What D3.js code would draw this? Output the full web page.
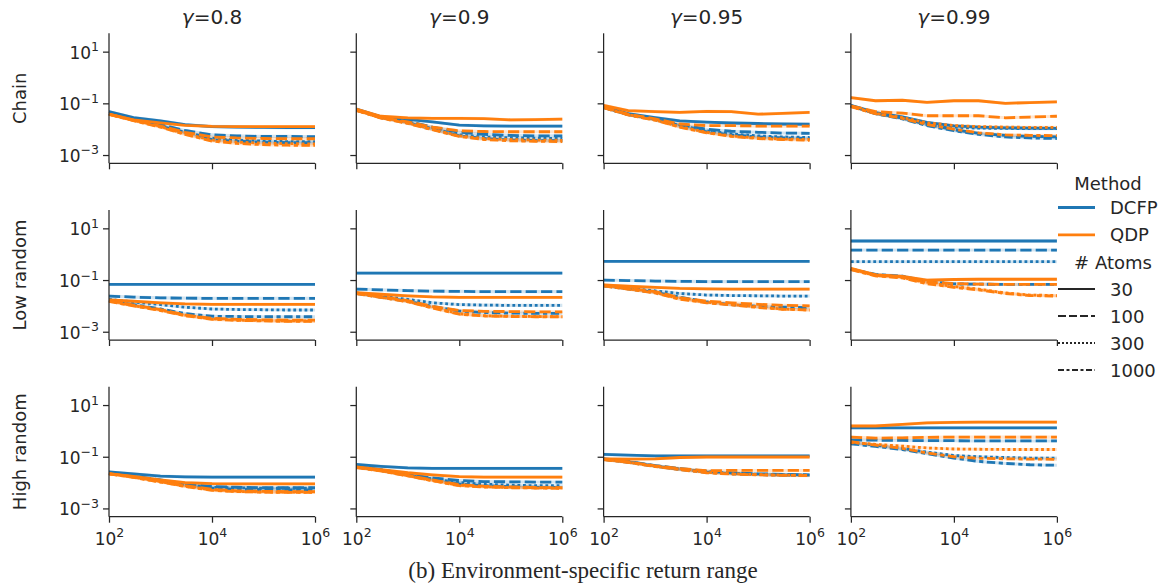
<!DOCTYPE html>
<meta charset="utf-8">
<script src="https://d3js.org/d3.v7.min.js"></script>
<style>
  body { margin: 0; background: #fff; }
  text { font-family: "DejaVu Sans", sans-serif; fill: #262626; }
</style>
<div id="chart"></div>
<script>
  // x values (return range) shared by every line
  var xVals = [1e2, 3e2, 1e3, 3e3, 1e4, 3e4, 1e5, 3e5, 1e6]
  var rowNames = ["Chain", "Low random", "High random"]
  var gammas = ["0.8", "0.9", "0.95", "0.99"]
  var methods = ["DCFP", "QDP"]
  var atoms = [30, 100, 300, 1000]
  var yTicks = [1e1, 1e-1, 1e-3]
  var xTicks = [1e2, 1e4, 1e6]

  // values, stored as log10(error); one row per atom count (30, 100, 300, 1000)
  var chain08Dcfp = [
    [-1.32, -1.55, -1.68, -1.82, -1.90, -1.92, -1.93, -1.94, -1.94],
    [-1.38, -1.60, -1.82, -2.05, -2.22, -2.26, -2.28, -2.28, -2.29],
    [-1.39, -1.62, -1.86, -2.12, -2.35, -2.42, -2.46, -2.48, -2.48],
    [-1.39, -1.63, -1.88, -2.15, -2.40, -2.47, -2.50, -2.52, -2.52]]
  var chain08Qdp = [
    [-1.42, -1.64, -1.76, -1.85, -1.89, -1.90, -1.90, -1.90, -1.90],
    [-1.42, -1.65, -1.88, -2.12, -2.30, -2.34, -2.36, -2.37, -2.37],
    [-1.42, -1.66, -1.90, -2.18, -2.42, -2.50, -2.54, -2.56, -2.57],
    [-1.43, -1.67, -1.92, -2.20, -2.46, -2.55, -2.60, -2.62, -2.63]]
  var chain09Dcfp = [
    [-1.22, -1.52, -1.62, -1.72, -1.84, -1.87, -1.88, -1.88, -1.88],
    [-1.25, -1.52, -1.70, -1.92, -2.12, -2.20, -2.24, -2.26, -2.26],
    [-1.26, -1.54, -1.74, -1.98, -2.22, -2.30, -2.33, -2.35, -2.36],
    [-1.26, -1.55, -1.76, -2.00, -2.26, -2.36, -2.42, -2.44, -2.45]]
  var chain09Qdp = [
    [-1.22, -1.50, -1.56, -1.58, -1.58, -1.59, -1.64, -1.63, -1.61],
    [-1.26, -1.55, -1.72, -1.92, -2.06, -2.09, -2.10, -2.10, -2.10],
    [-1.27, -1.56, -1.76, -2.00, -2.26, -2.36, -2.40, -2.42, -2.43],
    [-1.27, -1.57, -1.78, -2.02, -2.28, -2.40, -2.45, -2.47, -2.48]]
  var chain095Dcfp = [
    [-1.14, -1.40, -1.55, -1.68, -1.73, -1.76, -1.78, -1.80, -1.81],
    [-1.15, -1.42, -1.60, -1.82, -2.00, -2.08, -2.12, -2.15, -2.16],
    [-1.16, -1.43, -1.62, -1.86, -2.06, -2.18, -2.26, -2.30, -2.32],
    [-1.16, -1.44, -1.63, -1.88, -2.10, -2.22, -2.30, -2.34, -2.36]]
  var chain095Qdp = [
    [-1.08, -1.28, -1.32, -1.35, -1.31, -1.32, -1.42, -1.39, -1.35],
    [-1.14, -1.42, -1.60, -1.80, -1.86, -1.86, -1.88, -1.88, -1.88],
    [-1.16, -1.44, -1.64, -1.90, -2.12, -2.26, -2.34, -2.38, -2.40],
    [-1.17, -1.45, -1.65, -1.92, -2.14, -2.28, -2.36, -2.40, -2.43]]
  var chain099Dcfp = [
    [-1.08, -1.36, -1.52, -1.74, -1.87, -1.92, -1.95, -1.96, -1.97],
    [-1.10, -1.38, -1.57, -1.82, -2.02, -2.16, -2.24, -2.28, -2.30],
    [-1.10, -1.38, -1.56, -1.80, -1.92, -1.96, -1.97, -1.98, -1.98],
    [-1.10, -1.40, -1.60, -1.86, -2.06, -2.20, -2.30, -2.34, -2.36]]
  var chain099Qdp = [
    [-0.78, -0.90, -0.88, -0.96, -0.90, -0.90, -1.00, -0.97, -0.94],
    [-1.10, -1.32, -1.38, -1.48, -1.48, -1.48, -1.56, -1.53, -1.50],
    [-1.12, -1.38, -1.55, -1.75, -1.86, -1.90, -1.92, -1.93, -1.93],
    [-1.13, -1.40, -1.58, -1.82, -2.00, -2.14, -2.22, -2.24, -2.25]]

  var low08Dcfp = [
    [-1.17, -1.17, -1.17, -1.17, -1.17, -1.17, -1.17, -1.17, -1.17],
    [-1.62, -1.66, -1.69, -1.70, -1.71, -1.71, -1.71, -1.71, -1.71],
    [-1.75, -1.85, -1.95, -2.05, -2.12, -2.14, -2.15, -2.16, -2.16],
    [-1.80, -1.95, -2.12, -2.30, -2.40, -2.41, -2.42, -2.42, -2.42]]
  var low08Qdp = [
    [-1.77, -1.82, -1.88, -1.92, -1.94, -1.94, -1.94, -1.94, -1.94],
    [-1.80, -1.97, -2.14, -2.35, -2.48, -2.52, -2.54, -2.55, -2.55],
    [-1.82, -1.99, -2.16, -2.37, -2.50, -2.55, -2.57, -2.58, -2.58],
    [-1.83, -2.00, -2.18, -2.38, -2.52, -2.56, -2.58, -2.60, -2.60]]
  var low09Dcfp = [
    [-0.73, -0.73, -0.73, -0.73, -0.73, -0.73, -0.73, -0.73, -0.73],
    [-1.35, -1.38, -1.41, -1.43, -1.44, -1.45, -1.45, -1.45, -1.45],
    [-1.50, -1.62, -1.75, -1.88, -1.95, -1.97, -1.98, -1.98, -1.98],
    [-1.52, -1.66, -1.82, -2.02, -2.20, -2.26, -2.28, -2.29, -2.29]]
  var low09Qdp = [
    [-1.49, -1.55, -1.61, -1.65, -1.67, -1.67, -1.67, -1.67, -1.67],
    [-1.50, -1.64, -1.80, -2.02, -2.18, -2.21, -2.22, -2.23, -2.23],
    [-1.52, -1.66, -1.83, -2.06, -2.30, -2.38, -2.40, -2.41, -2.42],
    [-1.53, -1.67, -1.84, -2.08, -2.32, -2.39, -2.41, -2.42, -2.42]]
  var low095Dcfp = [
    [-0.28, -0.28, -0.28, -0.28, -0.28, -0.28, -0.28, -0.28, -0.28],
    [-1.00, -1.02, -1.04, -1.05, -1.06, -1.06, -1.06, -1.06, -1.06],
    [-1.22, -1.32, -1.42, -1.52, -1.58, -1.60, -1.61, -1.62, -1.62],
    [-1.22, -1.34, -1.48, -1.66, -1.85, -1.95, -2.02, -2.05, -2.07]]
  var low095Qdp = [
    [-1.19, -1.24, -1.28, -1.32, -1.34, -1.35, -1.35, -1.35, -1.35],
    [-1.20, -1.32, -1.45, -1.68, -1.82, -1.88, -1.94, -1.98, -2.00],
    [-1.22, -1.34, -1.48, -1.72, -1.86, -1.94, -2.04, -2.12, -2.16],
    [-1.23, -1.35, -1.50, -1.74, -1.88, -1.96, -2.06, -2.13, -2.16]]
  var low099Dcfp = [
    [0.51, 0.51, 0.51, 0.51, 0.51, 0.51, 0.51, 0.51, 0.51],
    [0.16, 0.16, 0.16, 0.16, 0.16, 0.16, 0.16, 0.16, 0.16],
    [-0.29, -0.29, -0.29, -0.29, -0.29, -0.29, -0.29, -0.29, -0.29],
    [-0.58, -0.78, -0.85, -1.05, -1.15, -1.16, -1.17, -1.17, -1.17]]
  var low099Qdp = [
    [-0.55, -0.80, -0.86, -1.00, -0.98, -0.97, -0.97, -0.97, -0.97],
    [-0.57, -0.80, -0.88, -1.08, -1.14, -1.16, -1.17, -1.17, -1.17],
    [-0.58, -0.82, -0.90, -1.10, -1.25, -1.35, -1.50, -1.58, -1.60],
    [-0.60, -0.84, -0.92, -1.14, -1.28, -1.38, -1.52, -1.60, -1.62]]

  var high08Dcfp = [
    [-1.59, -1.66, -1.75, -1.78, -1.79, -1.79, -1.79, -1.79, -1.79],
    [-1.62, -1.75, -1.90, -2.05, -2.15, -2.18, -2.20, -2.20, -2.20],
    [-1.63, -1.76, -1.92, -2.08, -2.18, -2.20, -2.22, -2.22, -2.22],
    [-1.63, -1.77, -1.94, -2.10, -2.22, -2.26, -2.27, -2.28, -2.28]]
  var high08Qdp = [
    [-1.65, -1.76, -1.90, -2.00, -2.04, -2.05, -2.05, -2.05, -2.05],
    [-1.65, -1.78, -1.95, -2.12, -2.26, -2.32, -2.34, -2.35, -2.35],
    [-1.66, -1.79, -1.97, -2.14, -2.28, -2.34, -2.36, -2.37, -2.37],
    [-1.66, -1.80, -1.98, -2.15, -2.30, -2.35, -2.37, -2.38, -2.38]]
  var high09Dcfp = [
    [-1.30, -1.37, -1.43, -1.45, -1.45, -1.45, -1.45, -1.45, -1.45],
    [-1.38, -1.50, -1.68, -1.82, -1.92, -1.96, -1.97, -1.98, -1.98],
    [-1.39, -1.52, -1.70, -1.86, -2.00, -2.06, -2.10, -2.12, -2.12],
    [-1.40, -1.53, -1.72, -1.88, -2.05, -2.12, -2.16, -2.18, -2.19]]
  var high09Qdp = [
    [-1.39, -1.50, -1.62, -1.70, -1.77, -1.79, -1.79, -1.79, -1.79],
    [-1.40, -1.53, -1.72, -1.90, -2.08, -2.14, -2.17, -2.19, -2.20],
    [-1.41, -1.54, -1.73, -1.92, -2.10, -2.16, -2.19, -2.20, -2.21],
    [-1.42, -1.55, -1.74, -1.93, -2.12, -2.17, -2.20, -2.21, -2.22]]
  var high095Dcfp = [
    [-0.91, -0.94, -0.97, -0.97, -0.97, -0.97, -0.97, -0.97, -0.97],
    [-1.08, -1.18, -1.34, -1.46, -1.56, -1.62, -1.66, -1.68, -1.70],
    [-1.09, -1.20, -1.36, -1.48, -1.58, -1.64, -1.68, -1.70, -1.72],
    [-1.10, -1.21, -1.37, -1.49, -1.60, -1.66, -1.69, -1.71, -1.72]]
  var high095Qdp = [
    [-1.08, -1.09, -1.08, -1.03, -1.01, -1.01, -1.01, -1.01, -1.01],
    [-1.10, -1.20, -1.35, -1.46, -1.54, -1.53, -1.53, -1.53, -1.53],
    [-1.10, -1.21, -1.37, -1.48, -1.60, -1.66, -1.69, -1.71, -1.72],
    [-1.11, -1.22, -1.38, -1.50, -1.62, -1.67, -1.70, -1.72, -1.73]]
  var high099Dcfp = [
    [0.12, 0.12, 0.12, 0.12, 0.12, 0.12, 0.12, 0.12, 0.12],
    [-0.35, -0.36, -0.37, -0.38, -0.38, -0.39, -0.39, -0.39, -0.39],
    [-0.45, -0.55, -0.68, -0.82, -0.95, -1.00, -1.03, -1.05, -1.05],
    [-0.50, -0.60, -0.72, -0.88, -1.05, -1.18, -1.26, -1.31, -1.33]]
  var high099Qdp = [
    [0.19, 0.19, 0.25, 0.31, 0.33, 0.34, 0.34, 0.34, 0.34],
    [-0.24, -0.28, -0.27, -0.25, -0.24, -0.24, -0.24, -0.24, -0.24],
    [-0.45, -0.52, -0.59, -0.66, -0.70, -0.71, -0.72, -0.72, -0.72],
    [-0.42, -0.55, -0.68, -0.85, -1.00, -1.06, -1.08, -1.09, -1.10]]

  // grid of panels [row][col] -> [dcfp, qdp]
  var panels = [
    [[chain08Dcfp, chain08Qdp], [chain09Dcfp, chain09Qdp], [chain095Dcfp, chain095Qdp], [chain099Dcfp, chain099Qdp]],
    [[low08Dcfp, low08Qdp], [low09Dcfp, low09Qdp], [low095Dcfp, low095Qdp], [low099Dcfp, low099Qdp]],
    [[high08Dcfp, high08Qdp], [high09Dcfp, high09Qdp], [high095Dcfp, high095Qdp], [high099Dcfp, high099Qdp]]
  ]

  // layout
  var width = 1163, height = 584
  var panelW = 206, panelH = 130
  var left0 = 109, colStep = 247.3
  var top0 = 33.3, rowStep = 176.7
  var colors = {"DCFP": "#1f77b4", "QDP": "#ff7f0e"}
  var lw = 2.8
  var dashes = ["none", (4*lw) + "," + (1.5*lw), lw + "," + lw, (3*lw) + "," + (1.25*lw) + "," + (1.5*lw) + "," + (1.25*lw)]
  var band = 0.06  // half width of the light confidence band, in decades

  var svg = d3.select("#chart").append("svg")
    .attr("width", width)
    .attr("height", height)

  var x = d3.scaleLog().domain([1e2, 1e6]).range([0, panelW])
  var y = d3.scaleLog().domain([Math.pow(10, -3.32), Math.pow(10, 1.71)]).range([panelH, 0])

  function powLabel(sel, v) {
    var e = Math.round(Math.log10(v))
    sel.text(null)
    sel.append("tspan").text("10")
    sel.append("tspan").attr("dy", -7.5).attr("font-size", "12.5px")
      .text(e < 0 ? "\u2212" + (-e) : e)
  }

  var line = d3.line()
    .x(function(d) { return x(d.x) })
    .y(function(d) { return y(Math.pow(10, d.v)) })
  var area = d3.area()
    .x(function(d) { return x(d.x) })
    .y0(function(d) { return y(Math.pow(10, d.v - band)) })
    .y1(function(d) { return y(Math.pow(10, d.v + band)) })

  rowNames.forEach(function(rowName, r) {
    gammas.forEach(function(g, c) {
      var gp = svg.append("g")
        .attr("transform", "translate(" + (left0 + c * colStep) + "," + (top0 + r * rowStep) + ")")

      // bands first, then lines
      methods.forEach(function(m, mi) {
        panels[r][c][mi].forEach(function(vals, ai) {
          var pts = vals.map(function(v, i) { return {x: xVals[i], v: v} })
          gp.append("path").attr("d", area(pts))
            .attr("fill", colors[m]).attr("opacity", 0.2)
        })
      })
      methods.forEach(function(m, mi) {
        panels[r][c][mi].forEach(function(vals, ai) {
          var pts = vals.map(function(v, i) { return {x: xVals[i], v: v} })
          gp.append("path").attr("d", line(pts))
            .attr("fill", "none")
            .attr("stroke", colors[m])
            .attr("stroke-width", lw)
            .attr("stroke-dasharray", dashes[ai])
        })
      })

      // axes
      var xa = gp.append("g").attr("transform", "translate(0," + panelH + ")")
        .call(d3.axisBottom(x).tickValues(xTicks).tickSize(6).tickPadding(4))
      var ya = gp.append("g")
        .call(d3.axisLeft(y).tickValues(yTicks).tickSize(6).tickPadding(4))
      ;[xa, ya].forEach(function(a) {
        a.select(".domain").attr("stroke", "#262626").attr("stroke-width", 1.25)
        a.selectAll(".tick line").attr("stroke", "#262626").attr("stroke-width", 1.25)
        a.selectAll("text").attr("font-family", "DejaVu Sans").attr("font-size", "17px").attr("fill", "#262626")
      })
      xa.select(".domain").attr("d", "M0,0H" + panelW)
      ya.select(".domain").attr("d", "M0,0V" + panelH)
      if (r == rowNames.length - 1) {
        xa.selectAll(".tick text").attr("dy", "1.05em").each(function(d) { powLabel(d3.select(this), d) })
      } else {
        xa.selectAll(".tick text").remove()
      }
      if (c == 0) {
        ya.selectAll(".tick text").attr("dy", "0.38em").each(function(d) { powLabel(d3.select(this), d) })
        gp.append("text")
          .attr("transform", "translate(-90," + (panelH / 2) + ") rotate(-90)")
          .attr("text-anchor", "middle")
          .attr("dominant-baseline", "central")
          .attr("font-size", "18px")
          .text(rowName)
      } else {
        ya.selectAll(".tick text").remove()
      }
      if (r == 0) {
        var t = gp.append("text")
          .attr("x", panelW / 2).attr("y", -9)
          .attr("text-anchor", "middle")
          .attr("font-size", "20px")
        t.append("tspan").attr("font-style", "italic").text("\u03b3")
        t.append("tspan").text("=" + g)
      }
    })
  })

  // legend
  var lg = svg.append("g").attr("transform", "translate(1058,0)")
  lg.append("text").attr("x", 50).attr("y", 183).attr("text-anchor", "middle")
    .attr("dominant-baseline", "central").attr("font-size", "18px").text("Method")
  methods.forEach(function(m, i) {
    var yy = 207.5 + i * 27.3
    lg.append("line").attr("x1", 0).attr("x2", 37).attr("y1", yy).attr("y2", yy)
      .attr("stroke", colors[m]).attr("stroke-width", lw)
    lg.append("text").attr("x", 52).attr("y", yy).attr("dominant-baseline", "central")
      .attr("font-size", "18px").text(m)
  })
  lg.append("text").attr("x", 55).attr("y", 262).attr("text-anchor", "middle")
    .attr("dominant-baseline", "central").attr("font-size", "18px").text("# Atoms")
  atoms.forEach(function(a, i) {
    var yy = 289 + i * 27
    lg.append("line").attr("x1", 0).attr("x2", 37).attr("y1", yy).attr("y2", yy)
      .attr("stroke", "#262626").attr("stroke-width", 2.2)
      .attr("stroke-dasharray", i == 0 ? "none" : i == 1 ? "8,3" : i == 2 ? "2,2" : "6,2.5,3,2.5")
    lg.append("text").attr("x", 52).attr("y", yy).attr("dominant-baseline", "central")
      .attr("font-size", "18px").text(a)
  })

  // caption
  svg.append("text")
    .attr("x", 583).attr("y", 578)
    .attr("text-anchor", "middle")
    .style("font-family", "'Liberation Serif', 'Times New Roman', serif")
    .attr("font-size", "23px")
    .text("(b) Environment-specific return range")
</script>
